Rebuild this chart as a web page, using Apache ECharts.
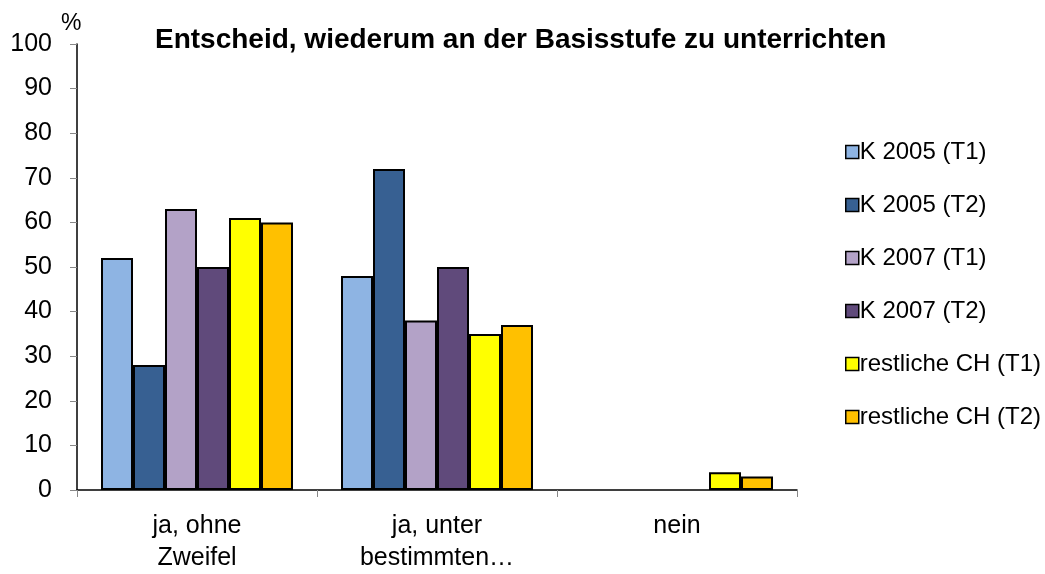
<!DOCTYPE html>
<html><head><meta charset="utf-8">
<script src="https://cdn.jsdelivr.net/npm/echarts@6/dist/echarts.min.js"></script>
<style>html,body{margin:0;padding:0;background:#fff}#c{width:1045px;height:574px}</style>
</head><body><div id="c"></div>
<script>
const categories = ['ja, ohne\nZweifel', 'ja, unter\nbestimmten…', 'nein'];
const seriesNames = ['K 2005 (T1)', 'K 2005 (T2)', 'K 2007 (T1)', 'K 2007 (T2)', 'restliche CH (T1)', 'restliche CH (T2)'];
const k2005T1 = [52, 48, null];
const k2005T2 = [28, 72, null];
const k2007T1 = [63, 38, null];
const k2007T2 = [50, 50, null];
const restT1 = [61, 35, 4];
const restT2 = [60, 37, 3];
const yTicks = [0, 10, 20, 30, 40, 50, 60, 70, 80, 90, 100];
const colors = ['#8EB4E3', '#376092', '#B3A2C7', '#604A7B', '#FFFF00', '#FFC000'];
const allData = [k2005T1, k2005T2, k2007T1, k2007T2, restT1, restT2];
const font = 'Liberation Sans, Arial, sans-serif';

const chart = echarts.init(document.getElementById('c'));
chart.setOption({
  animation: false,
  textStyle: { fontFamily: font },
  title: [
    { text: 'Entscheid, wiederum an der Basisstufe zu unterrichten', left: 150, top: 21,
      textStyle: { fontFamily: font, fontSize: 28, fontWeight: 'bold', color: '#000' } },
    { text: '%', left: 56, top: 7, textStyle: { fontFamily: font, fontSize: 23, fontWeight: 'normal', color: '#000' } }
  ],
  grid: { left: 77, right: 248, top: 44, bottom: 84, containLabel: false },
  legend: {
    orient: 'vertical', left: 840, top: 135,
    itemWidth: 13, itemHeight: 13, itemGap: 29,
    icon: 'rect',
    itemStyle: { borderColor: '#000', borderWidth: 1.5 },
    textStyle: { fontFamily: font, fontSize: 24, color: '#000', lineHeight: 24, padding: [0, 0, 0, -4] },
    data: seriesNames
  },
  xAxis: {
    type: 'category', data: categories,
    axisLine: { lineStyle: { color: '#000', width: 1.5 } },
    axisTick: { show: true, length: 7, lineStyle: { color: '#888' } },
    axisLabel: { fontFamily: font, fontSize: 25, color: '#000', lineHeight: 32, margin: 20 }
  },
  yAxis: {
    type: 'value', min: 0, max: 100, interval: 10,
    axisLine: { show: true, lineStyle: { color: '#000', width: 1.5 } },
    axisTick: { show: true, length: 7, lineStyle: { color: '#888' } },
    splitLine: { show: false },
    axisLabel: { fontFamily: font, fontSize: 25, color: '#000', margin: 25,
      formatter: v => yTicks.includes(v) ? String(v) : '' }
  },
  series: allData.map((d, i) => ({
    name: seriesNames[i], type: 'bar', data: d,
    barGap: '0%', barCategoryGap: '20%',
    itemStyle: { color: colors[i], borderColor: '#000', borderWidth: 2 }
  }))
});
</script></body></html>
